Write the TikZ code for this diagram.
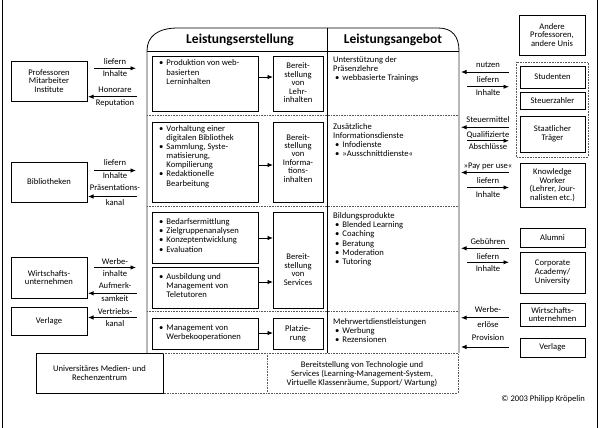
\documentclass[tikz,border=0pt]{standalone}
\usepackage{fontspec}
\setmainfont{Carlito}
\usetikzlibrary{arrows.meta}
\newcommand{\BU}{\textbullet\hspace{3pt}}
\newcommand{\IN}{\hphantom{\textbullet\hspace{3pt}}}
\newcommand{\RB}{\hspace*{2pt}\textbullet\hspace{3pt}}
\newcommand{\TLft}[1]{\begin{tabular}[t]{@{}l@{}}#1\end{tabular}}
\newcommand{\TCtr}[1]{\begin{tabular}[t]{@{}c@{}}#1\end{tabular}}
\newcommand{\BX}[6]{\node[box,anchor=north west,minimum width={(#4-#2)*1pt},minimum height={(#5-#3)*1pt}] (#1) at (#2,#3) {#6};}
\newcommand{\RA}[4]{\coordinate (#1s) at (#2,#4); \coordinate (#1e) at (#3,#4); \draw[arr] (#1s) -- (#1e);}
\begin{document}
\begin{tikzpicture}[x=1pt,y=-1pt, font=\fontsize{8.6}{9.2}\selectfont,
 box/.style={draw, line width=0.7pt, inner sep=0pt, outer sep=0pt, align=center, font=\fontsize{8.6}{8.7}\selectfont},
 arr/.style={-{Latex[length=5.5pt,width=4.5pt]}, line width=0.9pt},
 lbl/.style={anchor=base, inner sep=0pt},
 txt/.style={anchor=base west, inner sep=0pt},
 ctxt/.style={anchor=base, inner sep=0pt},
 dots/.style={gray!70!black, line width=0.5pt, dash pattern=on 0.6pt off 1pt},
 edge/.style={gray!55, line width=1.6pt},
 frm/.style={line width=0.8pt}]
\useasboundingbox (0,0) rectangle (600,428);
% outer frame
\draw[frm] (2,0) -- (2,428);
\draw[frm] (597,0) -- (597,428);
% main box
\draw[edge] (147,51) -- (147,353) (459,51) -- (459,353);
\draw[frm] (147,51) .. controls (147,36) and (158,28) .. (178,28) -- (438,28) .. controls (452,28) and (459,36) .. (459,51);
\draw[frm] (147,51) -- (459,51);
\draw[frm] (327,28) -- (327,353);
\draw[dots] (147,115) -- (459,115);
\draw[dots] (147,206.5) -- (459,206.5);
\draw[dots] (147,311.5) -- (459,311.5);
\node[anchor=base, inner sep=0pt, font=\fontsize{13.5}{15}\selectfont\bfseries] (h1) at (240,44) {Leistungserstellung};
\node[anchor=base, inner sep=0pt, font=\fontsize{13.5}{15}\selectfont\bfseries] (h2) at (393,44) {Leistungsangebot};
% centre boxes
\BX{pa}{152}{56}{258}{111}{}
\node[txt] (pat) at (159,66) {\TLft{\BU Produktion von web-\\\IN basierten\\\IN Lerninhalten}};
\BX{pli}{273}{56}{323}{111}{}
\node[ctxt, font=\fontsize{8.6}{8.4}\selectfont] (plit) at (298,69) {\TCtr{Bereit-\\stellung\\von\\Lehr-\\inhalten}};
\BX{pb}{152}{122}{258}{202}{}
\node[txt] (pbt) at (159,131) {\TLft{\BU Vorhaltung einer\\\IN digitalen Bibliothek\\\BU Sammlung, Syste-\\\IN matisierung,\\\IN Kompilierung\\\BU Redaktionelle\\\IN Bearbeitung}};
\BX{pii}{273}{122}{323}{202}{}
\node[ctxt, font=\fontsize{8.6}{8.4}\selectfont] (piit) at (298,140) {\TCtr{Bereit-\\stellung\\von\\Informa-\\tions-\\inhalten}};
\BX{pc}{152}{212}{258}{263}{}
\node[txt] (pct) at (159,224.5) {\TLft{\BU Bedarfsermittlung\\\BU Zielgruppenanalysen\\\BU Konzeptentwicklung\\\BU Evaluation}};
\BX{pd}{152}{267}{258}{308}{}
\node[txt] (pdt) at (159,279.5) {\TLft{\BU Ausbildung und\\\IN Management von\\\IN Teletutoren}};
\BX{ps}{273}{212}{323}{308}{}
\node[ctxt, font=\fontsize{8.6}{8.7}\selectfont] (pst) at (298,259.5) {\TCtr{Bereit-\\stellung\\von\\Services}};
\BX{pe}{152}{318}{258}{349}{}
\node[txt] (pet) at (159,330) {\TLft{\BU Management von\\\IN Werbekooperationen}};
\BX{ppl}{273}{318}{323}{349}{}
\node[ctxt, font=\fontsize{8.6}{9.5}\selectfont] (pplt) at (298,331) {\TCtr{Platzie-\\rung}};
\coordinate (ya) at (0,77);
\coordinate (yb) at (0,165);
\coordinate (yc) at (0,238);
\coordinate (yd) at (0,282);
\coordinate (ye) at (0,333);
\draw[arr] (pa.east |- ya) -- (pli.west |- ya);
\draw[arr] (pb.east |- yb) -- (pii.west |- yb);
\draw[arr] (pc.east |- yc) -- (ps.west |- yc);
\draw[arr] (pd.east |- yd) -- (ps.west |- yd);
\draw[arr] (pe.east |- ye) -- (ppl.west |- ye);
% Leistungsangebot column
\node[txt] (ra) at (333,62.5) {\TLft{Unterstützung der\\Präsenzlehre\\\RB webbasierte Trainings}};
\node[txt] (rb) at (333,129.2) {\TLft{Zusätzliche\\Informationsdienste\\\RB Infodienste\\\RB »Ausschnittdienste«}};
\node[txt] (rc) at (333,218.5) {\TLft{Bildungsprodukte\\\RB Blended Learning\\\RB Coaching\\\RB Beratung\\\RB Moderation\\\RB Tutoring}};
\node[txt] (rd) at (333,324.2) {\TLft{Mehrwertdienstleistungen\\\RB Werbung\\\RB Rezensionen}};
% bottom
\BX{urz}{36}{353}{163}{393}{Universitäres Medien- und\\Rechenzentrum}
\draw[dots] (163,353) -- (458,353) -- (458,393) -- (163,393);
\draw[dots] (267,353) -- (267,393);
\node[ctxt, font=\fontsize{8.6}{9}\selectfont] (tech) at (362,367.5) {\TCtr{Bereitstellung von Technologie und\\Services (Learning-Management-System,\\Virtuelle Klassenräume, Support/ Wartung)}};
\node[anchor=base east, inner sep=0pt] (copy) at (585,401.5) {© 2003 Philipp Kröpelin};
% left column
\BX{prof}{11}{61}{87}{101}{Professoren\\Mitarbeiter\\Institute}
\BX{bib}{11}{162}{87}{202}{Bibliotheken}
\BX{wul}{11}{257}{87}{298}{Wirtschafts-\\unternehmen}
\BX{verl}{11}{307}{87}{335}{Verlage}
\node[lbl] (l1a) at (115,64.2) {liefern};
\node[lbl] (l1b) at (115,77) {Inhalte};
\RA{la1}{94}{136}{68.3}
\node[lbl] (l2a) at (115,92.5) {Honorare};
\node[lbl] (l2b) at (115,105.8) {Reputation};
\RA{la2}{137}{88}{96.7}
\node[lbl] (l3a) at (115,165.8) {liefern};
\node[lbl] (l3b) at (115,178.5) {Inhalte};
\RA{la3}{94}{136}{170.5}
\node[lbl] (l4a) at (115,190.2) {Präsentations-};
\node[lbl] (l4b) at (115,205.8) {kanal};
\RA{la4}{137}{88}{196.5}
\node[lbl] (l5a) at (115,264.2) {Werbe-};
\node[lbl] (l5b) at (115,276.5) {inhalte};
\RA{la5}{94}{136}{267.5}
\node[lbl] (l6a) at (115,288.5) {Aufmerk-};
\node[lbl] (l6b) at (115,301.8) {samkeit};
\RA{la6}{137}{88}{293.3}
\node[lbl] (l7a) at (115,314.2) {Vertriebs-};
\node[lbl] (l7b) at (115,326.8) {kanal};
\RA{la7}{137}{88}{317.5}
% right column
\BX{andere}{519}{15}{585}{55}{Andere\\Professoren,\\andere Unis}
\draw[dots] (516,62) rectangle (588,157);
\BX{stud}{520}{66}{585}{88}{Studenten}
\BX{steu}{520}{92}{585}{109}{Steuerzahler}
\BX{staat}{520}{116}{585}{152}{Staatlicher\\Träger}
\BX{know}{520}{163}{585}{207}{Knowledge\\Worker\\(Lehrer, Jour-\\nalisten etc.)}
\BX{alum}{520}{228}{585}{247}{Alumni}
\BX{corp}{520}{252}{585}{293}{Corporate\\Academy/\\University}
\BX{wur}{520}{303}{585}{326}{Wirtschafts-\\unternehmen}
\BX{verr}{520}{338}{585}{357}{Verlage}
\node[lbl] (r1a) at (488,68) {nutzen};
\RA{ra1}{509}{461}{72}
\node[lbl] (r2a) at (488,82.5) {liefern};
\node[lbl] (r2b) at (488,95.5) {Inhalte};
\RA{ra2}{467}{509}{86.7}
\node[lbl] (r3a) at (488,122) {Steuermittel};
\RA{ra3}{509}{461}{127.3}
\node[lbl] (r4a) at (488,137) {Qualifizierte};
\node[lbl] (r4b) at (488,149.2) {Abschlüsse};
\RA{ra4}{467}{509}{140.7}
\node[lbl] (r5a) at (488,168.5) {»Pay per use«};
\RA{ra5}{509}{461}{172.5}
\node[lbl] (r6a) at (488,183) {liefern};
\node[lbl] (r6b) at (488,197) {Inhalte};
\RA{ra6}{467}{509}{187.5}
\node[lbl] (r7a) at (488,244.2) {Gebühren};
\RA{ra7}{509}{461}{248.3}
\node[lbl] (r8a) at (488,259.2) {liefern};
\node[lbl] (r8b) at (488,271.5) {Inhalte};
\RA{ra8}{467}{509}{262.3}
\node[lbl] (r9a) at (488,312.5) {Werbe-};
\node[lbl] (r9b) at (488,327.5) {erlöse};
\RA{ra9}{509}{461}{317.7}
\node[lbl] (r10a) at (488,340.8) {Provision};
\RA{ra10}{509}{461}{347}
\end{tikzpicture}
\end{document}
